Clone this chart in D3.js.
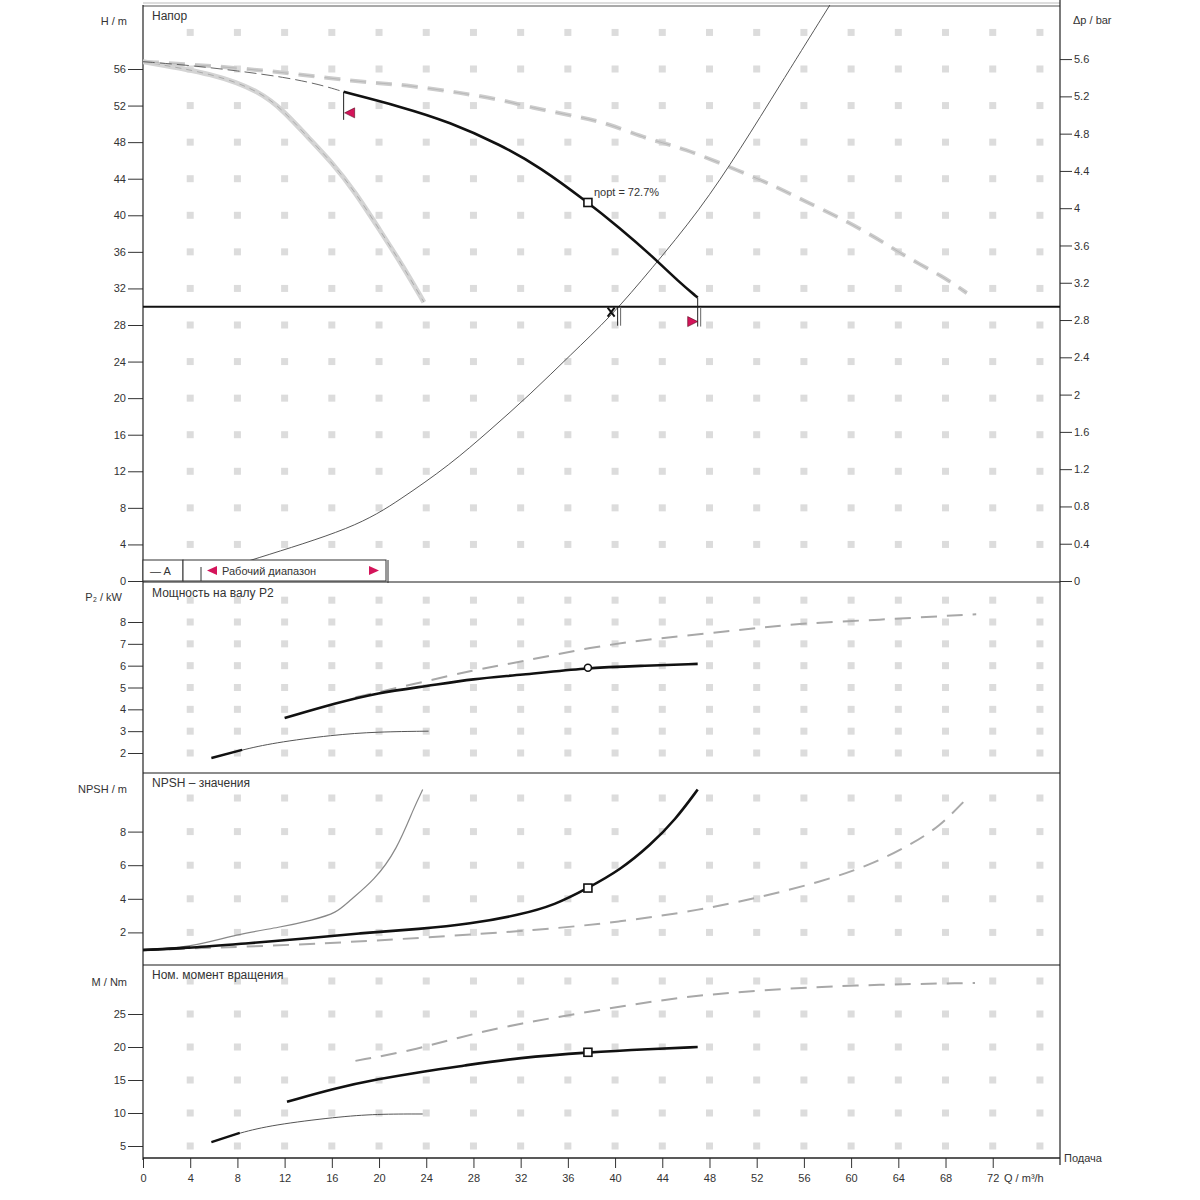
<!DOCTYPE html>
<html>
<head>
<meta charset="utf-8">
<script src="https://cdn.jsdelivr.net/npm/d3@7"></script>
<style>
  body { margin: 0; background: #fff; }
  svg text { font-family: 'Liberation Sans', Arial, sans-serif; font-size: 11px; fill: #333; }
  .ptitle { font-size: 12px; }
</style>
</head>
<body>
<svg id="chart" width="1200" height="1200"></svg>
<script>
// values
const qTicks = [0, 4, 8, 12, 16, 20, 24, 28, 32, 36, 40, 44, 48, 52, 56, 60, 64, 68, 72];
const headTicks = [0, 4, 8, 12, 16, 20, 24, 28, 32, 36, 40, 44, 48, 52, 56];
const barTicks = [0, 0.4, 0.8, 1.2, 1.6, 2, 2.4, 2.8, 3.2, 3.6, 4, 4.4, 4.8, 5.2, 5.6];
const powerTicks = [2, 3, 4, 5, 6, 7, 8];
const npshTicks = [2, 4, 6, 8];
const torqueTicks = [5, 10, 15, 20, 25];

// [Q m3/h, H m]
const headMain = [[17, 53.5], [21.8, 51.9], [26, 50.2], [30.3, 47.7], [33.6, 45.3], [37.7, 41.4], [40.4, 38.6], [43, 35.7], [45.5, 32.6], [47, 31]];
const headMainExt = [[0, 56.8], [4, 56.4], [8, 55.8], [12, 55.1], [15, 54.3], [17, 53.5]];
const headMax = [[0, 56.8], [4, 56.5], [8, 56.1], [12, 55.6], [15.8, 55.0], [19.2, 54.5], [22, 54.3], [26.9, 53.4], [30.5, 52.6], [32.8, 51.8], [36.8, 50.8], [39.3, 50.1], [43, 48.2], [45.5, 47.5], [50.8, 44.7], [53.7, 43.1], [56.3, 41.4], [59.1, 39.7], [62.2, 37.5], [64.7, 35.4], [67.8, 33.3], [69.8, 31.5]];
const headMin = [[0, 56.8], [6, 55.5], [10, 53.5], [12, 51.3], [14, 48.5], [16, 45.8], [18, 42.5], [20, 38.5], [22, 34.5], [23.8, 30.5]];
const systemCurve = [[0, 0], [5, 0.5], [9.1, 2.3], [18, 5.8], [21.8, 8.9], [26, 12.7], [29.4, 16.5], [32.8, 20.4], [36.2, 24.7], [39.7, 29], [43, 34], [47.2, 40.6], [50.6, 47.2], [54, 54.3], [58.2, 63]];
const requiredHead = 30;
const dutyQ = 40.3;
const rangeStart = [17, 53.5];
const rangeEnd = [47, 31];

// [Q, P2 kW]
const powerMain = [[12, 3.6], [16.4, 4.29], [19.8, 4.75], [24.1, 5.07], [28, 5.4], [31.9, 5.57], [37.6, 5.9], [42.1, 5.99], [47, 6.08]];
const powerMax = [[18, 4.55], [22.9, 5.15], [28, 5.8], [31.9, 6.16], [37.9, 6.85], [43.8, 7.27], [50.2, 7.6], [55.7, 7.95], [62.5, 8.1], [68.6, 8.3], [70.6, 8.35]];
const powerMin = [[5.8, 1.77], [8.4, 2.14], [11, 2.46], [16.1, 2.83], [19.8, 2.97], [24.2, 3.0]];

// [Q, NPSH m]
const npshMain = [[0, 0.95], [4, 1.07], [9.1, 1.37], [13.3, 1.6], [18.4, 1.96], [23.5, 2.2], [27.7, 2.5], [31.9, 3.04], [34.9, 3.63], [37.7, 4.64], [40.4, 5.7], [43, 7.2], [45.1, 8.7], [47, 10.5]];
const npshMin = [[0, 0.95], [4, 1.1], [8, 1.9], [11.6, 2.3], [14.4, 2.74], [16.4, 3.15], [17.5, 3.9], [19.6, 5.1], [21.5, 6.9], [23, 9.5], [23.7, 10.5]];
const npshMax = [[0, 0.95], [13.3, 1.25], [23.5, 1.67], [33.6, 2.14], [40.4, 2.62], [47.2, 3.33], [52.3, 4.1], [57.4, 5.0], [61.6, 6.0], [65, 7.2], [67.5, 8.3], [69.7, 9.9]];

// [Q, M Nm]
const torqueMain = [[12.2, 11.7], [16.4, 13.8], [19.8, 15.1], [24.1, 16.4], [26.9, 17.1], [31.9, 18.4], [37.7, 19.2], [43, 19.7], [47, 20.0]];
const torqueMax = [[18, 17.9], [22.9, 19.5], [26.6, 21.4], [31.9, 23.6], [38.7, 25.6], [45.5, 27.6], [52.3, 28.6], [60, 29.4], [70.5, 29.7]];
const torqueMin = [[5.8, 5.6], [8.2, 7.0], [11, 8.2], [16.4, 9.4], [19.8, 9.85], [23.7, 9.85]];

const bestQ = 37.7;
const bestHead = 41.4, bestPower = 5.9, bestNpsh = 4.64, bestTorque = 19.2;
const effText = 'ηopt = 72.7%';

const svg = d3.select('#chart');
const L = 143, R = 1060;
const x = d3.scaleLinear().domain([0, 77.7]).range([L, R]);
const yH = d3.scaleLinear().domain([0, 63]).range([581, 5]);
const yBar = d3.scaleLinear().domain([0, 63 * 0.0981]).range([581, 5]);
const yP = d3.scaleLinear().domain([2, 8]).range([753, 622]);
const yN = d3.scaleLinear().domain([0, 10]).range([966, 798]);
const yT = d3.scaleLinear().domain([5, 30]).range([1146, 981]);

const panels = [
  { id: 'head', y: yH, top: 5, bottom: 582, grid: d3.range(4, 61, 4), title: 'Напор', ty: 20,
    ticks: headTicks, minor: d3.range(0, 63, 0.5), label: 'H / m', ly: 25 },
  { id: 'power', y: yP, top: 582, bottom: 773, grid: d3.range(2, 10, 1), title: 'Мощность на валу P2', ty: 597,
    ticks: powerTicks, minor: d3.range(1.2, 9.7, 0.2), label: 'P₂ / kW', ly: 601 },
  { id: 'npsh', y: yN, top: 773, bottom: 965, grid: d3.range(2, 11, 2), title: 'NPSH – значения', ty: 787,
    ticks: npshTicks, minor: d3.range(0, 11.4, 0.25), label: 'NPSH / m', ly: 793 },
  { id: 'torque', y: yT, top: 965, bottom: 1158, grid: d3.range(5, 31, 5), title: 'Ном. момент вращения', ty: 979,
    ticks: torqueTicks, minor: d3.range(3.5, 32.5, 0.5), label: 'M / Nm', ly: 986 }
];

const defs = svg.append('defs');
panels.forEach(p => {
  defs.append('clipPath').attr('id', 'clip-' + p.id)
    .append('rect').attr('x', L).attr('y', p.top).attr('width', R - L).attr('height', p.bottom - p.top);
});

// grid dots
const gridX = d3.range(4, 77, 4);
panels.forEach(p => {
  const g = svg.append('g').attr('clip-path', 'url(#clip-' + p.id + ')');
  p.grid.forEach(v => {
    g.selectAll(null).data(gridX).join('rect')
      .attr('x', d => x(d) - 3.5).attr('y', p.y(v) - 3.5)
      .attr('width', 7).attr('height', 7).attr('fill', '#dcdcdc');
  });
});

// left axes
panels.forEach(p => {
  const ga = svg.append('g').attr('transform', 'translate(' + L + ',0)');
  ga.call(d3.axisLeft(p.y).tickValues(p.minor.filter(v => p.y(v) > p.top + 1 && p.y(v) < p.bottom - 1)).tickSize(6).tickFormat(''));
  ga.call(d3.axisLeft(p.y).tickValues(p.ticks).tickSize(15).tickPadding(2).tickFormat(d => d));
  ga.select('.domain').remove();
  ga.selectAll('line').attr('stroke', '#333');
  ga.selectAll('text').style('font-size', '11px');
  svg.append('text').attr('x', p.id === 'power' ? 122 : 127).attr('y', p.ly)
    .attr('text-anchor', 'end').text(p.label);
  svg.append('text').attr('class', 'ptitle').attr('x', 152).attr('y', p.ty).text(p.title);
});

// right axis (bar)
const gr = svg.append('g').attr('transform', 'translate(' + R + ',0)');
gr.call(d3.axisRight(yBar).tickValues(d3.range(0, 6.15, 0.05)).tickSize(4).tickFormat(''));
gr.call(d3.axisRight(yBar).tickValues(barTicks).tickSize(12).tickPadding(2).tickFormat(d => String(+d.toFixed(1))));
gr.select('.domain').remove();
gr.selectAll('line').attr('stroke', '#333');
svg.append('text').attr('x', 1073).attr('y', 24).text('Δp / bar');

// bottom axis
const gb = svg.append('g').attr('transform', 'translate(0,1158)');
gb.call(d3.axisBottom(x).tickValues(d3.range(0, 77.6, 0.5)).tickSize(6).tickFormat(''));
gb.call(d3.axisBottom(x).tickValues(qTicks).tickSize(10).tickPadding(6).tickFormat(d => d));
gb.select('.domain').remove();
gb.selectAll('line').attr('stroke', '#333');
svg.append('text').attr('x', 1004).attr('y', 1182).text('Q / m³/h');
svg.append('text').attr('x', 1064).attr('y', 1162).text('Подача');

// frame lines
svg.append('line').attr('x1', L).attr('x2', R).attr('y1', 3).attr('y2', 3).attr('stroke', '#bbb');
svg.append('line').attr('x1', L).attr('x2', R).attr('y1', 6).attr('y2', 6).attr('stroke', '#555');
[582, 773, 965].forEach(yy => {
  svg.append('line').attr('x1', L).attr('x2', R).attr('y1', yy).attr('y2', yy)
    .attr('stroke', '#666').attr('stroke-width', 1.5);
});
svg.append('line').attr('x1', L).attr('x2', R).attr('y1', 1158).attr('y2', 1158).attr('stroke', '#222').attr('stroke-width', 1.5);
svg.append('line').attr('x1', L).attr('x2', L).attr('y1', 5).attr('y2', 1160).attr('stroke', '#222').attr('stroke-width', 1.2);
svg.append('line').attr('x1', R).attr('x2', R).attr('y1', 0).attr('y2', 1165).attr('stroke', '#222').attr('stroke-width', 1.2);

// curves
function draw(panelId, y, data, stroke, width, dash) {
  const line = d3.line().x(d => x(d[0])).y(d => y(d[1])).curve(d3.curveBasis);
  svg.append('path').datum(data)
    .attr('clip-path', 'url(#clip-' + panelId + ')')
    .attr('d', line).attr('fill', 'none')
    .attr('stroke', stroke).attr('stroke-width', width)
    .attr('stroke-dasharray', dash || null)
    .attr('stroke-linecap', 'butt');
}

// head panel
draw('head', yH, headMin, '#d4d4d4', 5);
draw('head', yH, headMin, '#999', 0.7, '6,5');
draw('head', yH, headMax, '#cdcdcd', 4, '16,10');
draw('head', yH, headMax, '#aaa', 0.6, '16,10');
draw('head', yH, headMainExt, '#555', 0.9, '12,5');
draw('head', yH, systemCurve, '#444', 0.9);
draw('head', yH, headMain, '#111', 2.6);

svg.append('line').attr('x1', L).attr('x2', R)
  .attr('y1', yH(requiredHead)).attr('y2', yH(requiredHead))
  .attr('stroke', '#111').attr('stroke-width', 2);

// operating range flags
const red = '#d4145a';
const sx = x(rangeStart[0]), sy = yH(rangeStart[1]);
svg.append('line').attr('x1', sx).attr('x2', sx).attr('y1', sy).attr('y2', sy + 28).attr('stroke', '#222');
svg.append('path').attr('d', `M${sx + 1},${sy + 21} L${sx + 11},${sy + 16} L${sx + 11},${sy + 26} Z`)
  .attr('fill', red).attr('stroke', '#5a0a20').attr('stroke-width', 0.6);
const ex = x(rangeEnd[0]), ey = yH(rangeEnd[1]);
svg.append('line').attr('x1', ex).attr('x2', ex).attr('y1', ey).attr('y2', ey + 29).attr('stroke', '#222');
svg.append('line').attr('x1', ex + 3).attr('x2', ex + 3).attr('y1', ey + 10).attr('y2', ey + 29).attr('stroke', '#666');
svg.append('path').attr('d', `M${ex - 10},${ey + 19} L${ex},${ey + 24} L${ex - 10},${ey + 29} Z`)
  .attr('fill', red).attr('stroke', '#5a0a20').attr('stroke-width', 0.6);

// duty point mark
const dx = x(dutyQ), dy = yH(requiredHead);
svg.append('path').attr('d', `M${dx - 11},${dy + 1} L${dx - 4},${dy + 10} M${dx - 4},${dy + 1} L${dx - 11},${dy + 10}`)
  .attr('stroke', '#111').attr('stroke-width', 2);
svg.append('line').attr('x1', dx - 1).attr('x2', dx - 1).attr('y1', dy).attr('y2', dy + 19).attr('stroke', '#222');
svg.append('line').attr('x1', dx + 2).attr('x2', dx + 2).attr('y1', dy).attr('y2', dy + 19).attr('stroke', '#666');

// best efficiency point
svg.append('rect').attr('x', x(bestQ) - 4).attr('y', yH(bestHead) - 4).attr('width', 8).attr('height', 8)
  .attr('fill', '#fff').attr('stroke', '#111').attr('stroke-width', 1.6);
svg.append('text').attr('x', x(bestQ) + 6).attr('y', yH(bestHead) - 6).text(effText);

// legend
svg.append('rect').attr('x', L).attr('y', 560).attr('width', 40).attr('height', 21)
  .attr('fill', '#fff').attr('stroke', '#333');
svg.append('text').attr('x', 150).attr('y', 575).text('— A');
svg.append('rect').attr('x', 183).attr('y', 560).attr('width', 203).attr('height', 21)
  .attr('fill', '#fff').attr('stroke', '#333');
svg.append('path').attr('d', 'M201,567 L201,581').attr('stroke', '#333');
svg.append('path').attr('d', 'M207,570.5 L217,566 L217,575 Z').attr('fill', red);
svg.append('text').attr('x', 222).attr('y', 575).text('Рабочий диапазон');
svg.append('path').attr('d', 'M369,566 L379,570.5 L369,575 Z').attr('fill', red);
svg.append('line').attr('x1', 388).attr('x2', 388).attr('y1', 560).attr('y2', 583).attr('stroke', '#333');

// power panel
draw('power', yP, powerMax, '#a8a8a8', 2, '16,10');
draw('power', yP, powerMin, '#555', 1);
draw('power', yP, powerMin.slice(0, 2), '#111', 2.4);
draw('power', yP, powerMain, '#111', 2.6);
svg.append('circle').attr('cx', x(bestQ)).attr('cy', yP(bestPower)).attr('r', 3.5)
  .attr('fill', '#fff').attr('stroke', '#111').attr('stroke-width', 1.5);

// npsh panel
draw('npsh', yN, npshMax, '#aaa', 2, '16,10');
draw('npsh', yN, npshMin, '#888', 1.2);
draw('npsh', yN, npshMin.slice(0, 2), '#111', 2.4);
draw('npsh', yN, npshMain, '#111', 2.6);
svg.append('rect').attr('x', x(bestQ) - 4).attr('y', yN(bestNpsh) - 4).attr('width', 8).attr('height', 8)
  .attr('fill', '#fff').attr('stroke', '#111').attr('stroke-width', 1.6);

// torque panel
draw('torque', yT, torqueMax, '#a8a8a8', 2, '16,10');
draw('torque', yT, torqueMin, '#555', 1);
draw('torque', yT, torqueMin.slice(0, 2), '#111', 2.4);
draw('torque', yT, torqueMain, '#111', 2.6);
svg.append('rect').attr('x', x(bestQ) - 4).attr('y', yT(bestTorque) - 4).attr('width', 8).attr('height', 8)
  .attr('fill', '#fff').attr('stroke', '#111').attr('stroke-width', 1.6);
</script>
</body>
</html>
